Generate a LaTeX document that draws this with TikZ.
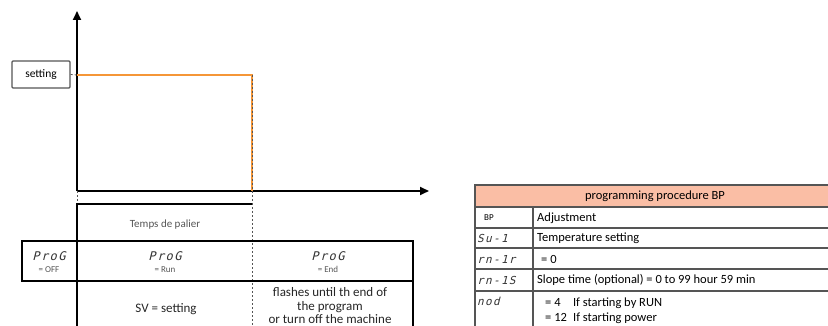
\documentclass[tikz,border=0pt]{standalone}
\usepackage{fontspec}
\usepackage{tikz}
\usetikzlibrary{arrows.meta}
\setmainfont{Carlito}
\newfontfamily\segfont[FakeSlant=0.25,LetterSpace=12]{DejaVu Sans Mono}
\definecolor{rampline}{RGB}{245,150,55}
\definecolor{headfill}{RGB}{250,190,165}
\definecolor{gridgray}{RGB}{85,85,85}
\tikzset{
    % thick axes with filled tips
    axisline/.style={line width=1.8pt,-{Triangle[length=9pt,width=8pt]}},
    setbox/.style={draw=gridgray,line width=1.1pt,rounded corners=1pt,minimum width=58pt,minimum height=27pt,inner sep=0pt,font=\fontsize{11.5}{13}\selectfont},
    segtext/.style={font=\segfont\fontsize{12}{13}\selectfont,inner sep=0pt,text=black!80},
    smalltext/.style={font=\fontsize{9}{10}\selectfont,text=gridgray,inner sep=0pt},
    bodytext/.style={font=\fontsize{13}{14}\selectfont,inner sep=0pt,text=black!85},
    tabletext/.style={font=\fontsize{12.5}{14}\selectfont,inner sep=0pt,text=black},
    guide/.style={gridgray,line width=1pt,dash pattern=on 2pt off 2pt},
    gridline/.style={gridgray,line width=1.1pt}
}
\begin{document}
\begin{tikzpicture}[x=1pt,y=1pt,yscale=-1]
\useasboundingbox (0,0) rectangle (828,326);

%Shape: Axis 2D
\coordinate (o) at (77,191);
\coordinate (ytip) at (77,11);
\coordinate (xtip) at (429,191);
\draw [axisline] (o) -- (ytip);
\draw [axisline] (o) -- (xtip);

%Setting box and plateau
\node [setbox] (setting) at (41,74.5) {setting};
\coordinate (sp) at (77,75);
\coordinate (ep) at (252,75);
\coordinate (ed) at (252,191);
\draw [guide,line width=0.8pt] (setting.east) -- (sp);
\draw [rampline,line width=1.6pt] (sp) -- (ep) -- (ed);
\draw [guide] (ep) -- (ed);

%Straight Lines: phase markers
\coordinate (la) at (77,204);
\coordinate (lb) at (77,326);
\coordinate (ra) at (252,204);
\coordinate (rb) at (252,326);
\draw [guide] (o) -- (la);
\draw [guide] (ed) -- (rb);
\draw [line width=2pt] (lb) -- (la) -- (ra);

%Shape: Rectangle (program state row)
\draw [line width=1.8pt] (22,241) rectangle (413,281);
\draw [line width=1.8pt] (413,281) -- (413,326);

% Text Node
\node [smalltext,font=\fontsize{11}{12}\selectfont] (palier) at (165,225) {Temps de palier};
% Text Node
\node [segtext] (prog1) at (49,256) {ProG};
\node [smalltext] (off) at (49,269.5) {= OFF};
% Text Node
\node [segtext] (prog2) at (165,256) {ProG};
\node [smalltext] (run) at (165,269.5) {= Run};
% Text Node
\node [segtext] (prog3) at (328,256) {ProG};
\node [smalltext] (end) at (328,269.5) {= End};
% Text Node
\node [bodytext] (sv) at (166,309) {SV = setting};
% Text Node
\node [bodytext,align=center,font=\fontsize{13}{13.5}\selectfont] (flash) at (330,306) {flashes until th end of\\the program\\or turn off the machine};

%Table: programming procedure BP
\fill [headfill] (475,185) rectangle (828,207);
\draw [gridline] (828,185) -- (475,185) -- (475,326);
\draw [gridline] (533,207) -- (533,326);
\foreach \y in {207,228,248,269,291}
    \draw [gridline] (475,\y) -- (828,\y);

% Text Node
\node [tabletext] (head) at (655,196) {programming procedure BP};
\node [tabletext,font=\fontsize{9}{10}\selectfont] (bp) at (489,218) {BP};
\node [tabletext,anchor=west] (adj) at (537,218) {Adjustment};
\node [segtext,anchor=west,font=\segfont\fontsize{11}{12}\selectfont] (sv1) at (477,238.5) {Su-1};
\node [tabletext,anchor=west] (temp) at (537,238.5) {Temperature setting};
\node [segtext,anchor=west,font=\segfont\fontsize{11}{12}\selectfont] (rn1r) at (477,259) {rn-1r};
\node [tabletext,anchor=west] (zero) at (541,259) {= 0};
\node [segtext,anchor=west,font=\segfont\fontsize{11}{12}\selectfont] (rn1s) at (477,280) {rn-1S};
\node [tabletext,anchor=west] (slope) at (537,280) {Slope time (optional) = 0 to 99 hour 59 min};
\node [segtext,anchor=west,font=\segfont\fontsize{11}{12}\selectfont] (mod) at (477,301) {nod};
\node [tabletext,anchor=west] (four) at (545,303) {= 4\quad If starting by RUN};
\node [tabletext,anchor=west] (twelve) at (545,318) {= 12\enspace If starting power};

\end{tikzpicture}
\end{document}
